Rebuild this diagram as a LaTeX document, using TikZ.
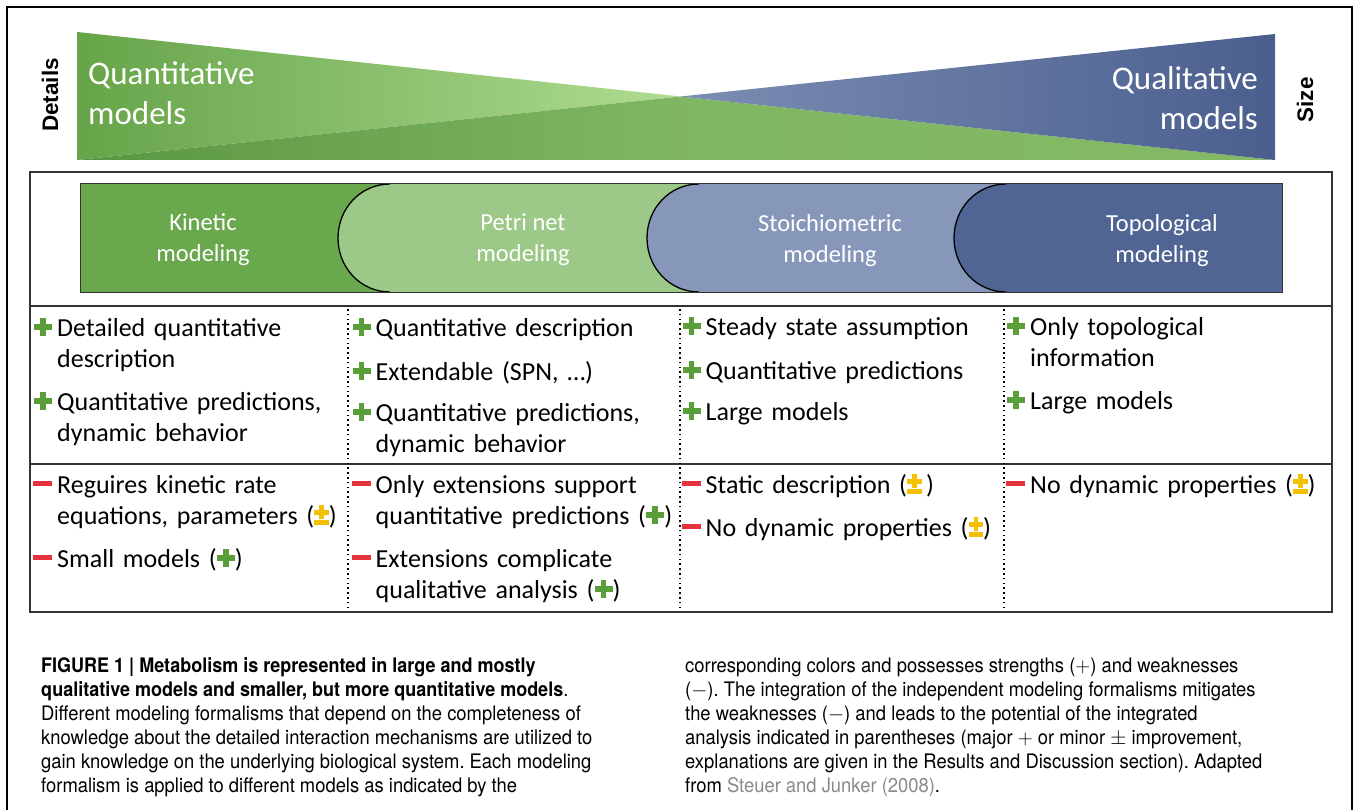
\documentclass[tikz,border=0pt]{standalone}
\usepackage{fontspec}
\setmainfont{Carlito}
\newfontfamily\capfont[FakeStretch=0.92,BoldFeatures={FakeStretch=0.90}]{TeX Gyre Heros}
\newfontfamily\axisfont{Liberation Sans}
\definecolor{gdark}{HTML}{66A449}
\definecolor{glight}{HTML}{B0DC92}
\definecolor{ovdark}{HTML}{5A9642}
\definecolor{ovlight}{HTML}{84BA66}
\definecolor{bdark}{HTML}{4B5F8F}
\definecolor{blight}{HTML}{7B8DB2}
\definecolor{kincol}{HTML}{6AA84E}
\definecolor{petcol}{HTML}{9CC888}
\definecolor{stocol}{HTML}{8797B9}
\definecolor{topcol}{HTML}{506594}
\definecolor{pgreen}{HTML}{5A9E3A}
\definecolor{mred}{HTML}{E5323C}
\definecolor{pmyellow}{HTML}{F5C000}
\definecolor{citegrey}{HTML}{8A8A8A}
\definecolor{tableline}{HTML}{333333}
\newcommand{\PlusG}{\textcolor{pgreen}{\rlap{\rule[0.25em]{0.7em}{0.21em}}\hspace{0.245em}\rule[0.0em]{0.21em}{0.7em}\hspace{0.245em}}}
\newcommand{\MinusR}{\textcolor{mred}{\rule[0.26em]{0.72em}{0.2em}}}
\newcommand{\PmY}{\textcolor{pmyellow}{\rlap{\rule[0.36em]{0.56em}{0.17em}}\rlap{\rule[-0.03em]{0.56em}{0.17em}}\hspace{0.195em}\rule[0.18em]{0.17em}{0.54em}\hspace{0.195em}}}
\newcommand{\LP}{\llap{\PlusG\hspace{5pt}}}
\newcommand{\LM}{\llap{\MinusR\hspace{5pt}}}
\frenchspacing
\begin{document}
\begin{tikzpicture}[x=1pt,y=-1pt,
  frame/.style={draw=black,line width=1.2pt},
  tabline/.style={draw=black,line width=1.3pt},
  tabletext/.style={anchor=base west,inner sep=0pt,text width=320pt,align=left,font=\fontsize{26}{31}\selectfont},
  tabtitle/.style={anchor=center,inner sep=0pt,align=center,text=white,font=\fontsize{24.5}{31}\selectfont},
  biglabel/.style={inner sep=0pt,text=white,font=\fontsize{33}{40}\selectfont},
  axislabel/.style={inner sep=0pt,rotate=90,font=\axisfont\bfseries\fontsize{22.5}{26}\selectfont},
  captext/.style={anchor=base west,inner sep=0pt,font=\capfont\fontsize{20}{24}\selectfont},
  tline/.style={draw=tableline,line width=1.4pt},
  dotline/.style={draw=black,line width=1.6pt,dash pattern=on 1.6pt off 3.2pt}]
\useasboundingbox (0,0) rectangle (1354,810);
% outer frame
\draw[frame] (7,810) -- (7,7) -- (1352,7) -- (1352,810);
% top triangles
\coordinate (X) at (680.7,96.5);
\shade[left color=gdark,right color=glight] (77,32) -- (X) -- (77,160) -- cycle;
\shade[left color=ovdark,right color=ovlight,middle color=ovlight!90!ovdark] (77,160) -- (X) -- (1275,160) -- cycle;
\shade[left color=blight,right color=bdark] (X) -- (1275,34) -- (1275,160) -- cycle;
\node[biglabel,anchor=west,align=left] (quant) at (88,93) {Quantitative\\models};
\node[biglabel,anchor=east,align=right] (qual) at (1258,98) {Qualitative\\models};
\node[axislabel] (details) at (50,95) {Details};
\node[axislabel] (size) at (1305,100) {Size};
% table frame
\draw[tline] (30,172) rectangle (1332,612);
\draw[tline] (30,306) -- (1332,306);
\draw[tline] (30,464) -- (1332,464);
\draw[dotline] (348,309) -- (348,611);
\draw[dotline] (680,309) -- (680,611);
\draw[dotline] (1004,309) -- (1004,611);
% tabs
\fill[kincol] (80,184) rectangle (420,292);
\fill[petcol] (390,184) -- (725,184) -- (725,292) -- (390,292) .. controls (361,292) and (338,268) .. (338,238) .. controls (338,208) and (361,184) .. (390,184) -- cycle;
\draw[tabline] (390,292) .. controls (361,292) and (338,268) .. (338,238) .. controls (338,208) and (361,184) .. (390,184);
\fill[stocol] (699,184) -- (1030,184) -- (1030,292) -- (699,292) .. controls (670,292) and (647,268) .. (647,238) .. controls (647,208) and (670,184) .. (699,184) -- cycle;
\draw[tabline] (699,292) .. controls (670,292) and (647,268) .. (647,238) .. controls (647,208) and (670,184) .. (699,184);
\fill[topcol] (1006,184) -- (1282,184) -- (1282,292) -- (1006,292) .. controls (977,292) and (954,268) .. (954,238) .. controls (954,208) and (977,184) .. (1006,184) -- cycle;
\draw[tabline] (1006,292) .. controls (977,292) and (954,268) .. (954,238) .. controls (954,208) and (977,184) .. (1006,184);
\draw[draw=black!80,line width=1pt] (80,184) rectangle (1282,292);
\node[tabtitle] (kin) at (203,240) {Kinetic\\modeling};
\node[tabtitle] (pet) at (523,240) {Petri net\\modeling};
\node[tabtitle] (sto) at (830,241) {Stoichiometric\\modeling};
\node[tabtitle] (top) at (1162,241) {Topological\\modeling};
% strengths
\node[tabletext] (p11) at (57,336) {\LP Detailed quantitative\\description};
\node[tabletext] (p12) at (57,410) {\LP Quantitative predictions,\\dynamic behavior};
\node[tabletext] (p21) at (375.5,336) {\LP Quantitative description};
\node[tabletext] (p22) at (375.5,380) {\LP Extendable (SPN, …)};
\node[tabletext] (p23) at (375.5,421) {\LP Quantitative predictions,\\dynamic behavior};
\node[tabletext] (p31) at (705.5,335) {\LP Steady state assumption};
\node[tabletext] (p32) at (705.5,379) {\LP Quantitative predictions};
\node[tabletext] (p33) at (705.5,420) {\LP Large models};
\node[tabletext] (p41) at (1030,335) {\LP Only topological\\information};
\node[tabletext] (p42) at (1030,409) {\LP Large models};
% weaknesses
\node[tabletext] (m11) at (57,493) {\LM Reguires kinetic rate\\equations, parameters (\PmY)};
\node[tabletext] (m12) at (57,567) {\LM Small models (\PlusG)};
\node[tabletext] (m21) at (375.5,493) {\LM Only extensions support\\quantitative predictions (\PlusG)};
\node[tabletext] (m22) at (375.5,567) {\LM Extensions complicate\\qualitative analysis (\PlusG)};
\node[tabletext] (m31) at (705.5,493) {\LM Static description (\PmY\,)};
\node[tabletext] (m32) at (705.5,536) {\LM No dynamic properties (\PmY)};
\node[tabletext] (m41) at (1030,493) {\LM No dynamic properties (\PmY)};
% caption
\node[captext] (c1) at (41,672) {\bfseries FIGURE 1 | Metabolism is represented in large and mostly};
\node[captext] (c2) at (41,696) {\textbf{qualitative models and smaller, but more quantitative models}.};
\node[captext] (c3) at (41,720) {Different modeling formalisms that depend on the completeness of};
\node[captext] (c4) at (41,744) {knowledge about the detailed interaction mechanisms are utilized to};
\node[captext] (c5) at (41,768) {gain knowledge on the underlying biological system. Each modeling};
\node[captext] (c6) at (41,792) {formalism is applied to different models as indicated by the};
\node[captext] (d1) at (685,672) {corresponding colors and possesses strengths ($+$) and weaknesses};
\node[captext] (d2) at (685,696) {($-$). The integration of the independent modeling formalisms mitigates};
\node[captext] (d3) at (685,720) {the weaknesses ($-$) and leads to the potential of the integrated};
\node[captext] (d4) at (685,744) {analysis indicated in parentheses (major $+$ or minor $\pm$ improvement,};
\node[captext] (d5) at (685,768) {explanations are given in the Results and Discussion section). Adapted};
\node[captext] (d6) at (685,792) {from \textcolor{citegrey}{Steuer and Junker (2008)}.};
\end{tikzpicture}
\end{document}
